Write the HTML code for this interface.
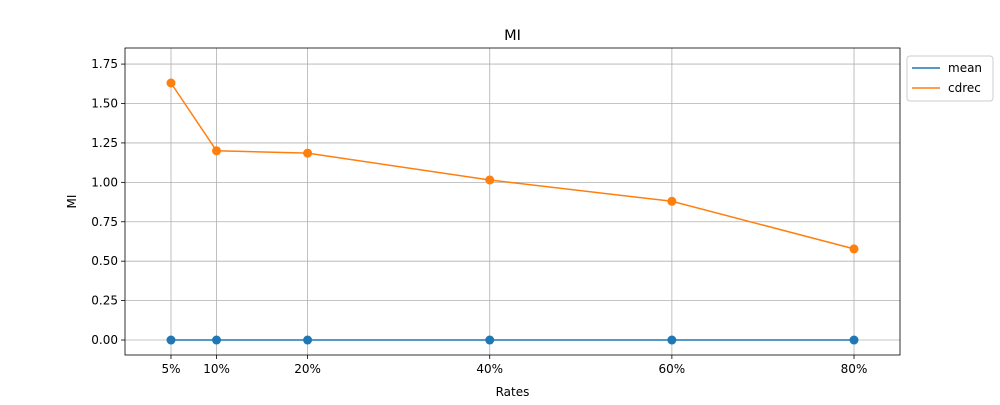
<!DOCTYPE html>
<html><head><meta charset="utf-8"><style>
body{margin:0;background:#fff;font-family:"Liberation Sans","DejaVu Sans",sans-serif;}
svg text{font-family:"DejaVu Sans","Liberation Sans",sans-serif;}
</style></head><body>
<svg id="chart" width="1000" height="400" xmlns="http://www.w3.org/2000/svg"></svg>
<script>
const categories = [5, 10, 20, 40, 60, 80];
const categoryLabels = ["5%", "10%", "20%", "40%", "60%", "80%"];
const meanValues = [0, 0, 0, 0, 0, 0];
const cdrecValues = [1.63, 1.20, 1.185, 1.015, 0.88, 0.578];
const yTicks = [0, 0.25, 0.5, 0.75, 1.0, 1.25, 1.5, 1.75];
const yTickLabels = ["0.00","0.25","0.50","0.75","1.00","1.25","1.50","1.75"];

const L=125,R=900,T=48,B=355;
const xMin=-0.05,xMax=85.05,yMin=-0.095,yMax=1.852;
const sx=v=>L+(v-xMin)/(xMax-xMin)*(R-L);
const sy=v=>B-(v-yMin)/(yMax-yMin)*(B-T);
const svg=document.getElementById('chart');
const NS='http://www.w3.org/2000/svg';
function mk(tag,attrs,parent){const e=document.createElementNS(NS,tag);for(const k in attrs)e.setAttribute(k,attrs[k]);(parent||svg).appendChild(e);return e;}

const grid=mk('g',{});


categories.forEach(c=>mk('line',{x1:sx(c),x2:sx(c),y1:T,y2:B,stroke:'#b0b0b0','stroke-width':0.8},grid));
yTicks.forEach(v=>mk('line',{x1:L,x2:R,y1:sy(v),y2:sy(v),stroke:'#b0b0b0','stroke-width':0.8},grid));

const xa=mk('g',{});


categories.forEach((c,i)=>{
  mk('line',{x1:sx(c),x2:sx(c),y1:B,y2:B+4,stroke:'#000','stroke-width':0.8},xa);
  const t=mk('text',{x:sx(c),y:B+18,'text-anchor':'middle','font-size':12},xa);t.textContent=categoryLabels[i];
});
const ya=mk('g',{});


yTicks.forEach((v,i)=>{
  mk('line',{x1:L-4,x2:L,y1:sy(v),y2:sy(v),stroke:'#000','stroke-width':0.8},ya);
  const t=mk('text',{x:L-7,y:sy(v)+4,'text-anchor':'end','font-size':12},ya);t.textContent=yTickLabels[i];
});

function series(vals,color,name){
  const g=mk('g',{});
  
  
  mk('polyline',{points:vals.map((v,i)=>sx(categories[i])+','+sy(v)).join(' '),fill:'none',stroke:color,'stroke-width':1.5},g);
  vals.forEach((v,i)=>{const c=mk('circle',{cx:sx(categories[i]),cy:sy(v),r:4.5,fill:color},g);
    
    });
}
series(meanValues,'#1f77b4','mean-series');
series(cdrecValues,'#ff7f0e','cdrec-series');

const frame=mk('rect',{x:L,y:T,width:R-L,height:B-T,fill:'none',stroke:'#000','stroke-width':0.8});



let t=mk('text',{x:(L+R)/2,y:40,'text-anchor':'middle','font-size':14.5});t.textContent='MI';

t=mk('text',{x:(L+R)/2,y:396,'text-anchor':'middle','font-size':12});t.textContent='Rates';

t=mk('text',{x:76,y:(T+B)/2,'text-anchor':'middle','font-size':12,transform:'rotate(-90 76 '+((T+B)/2)+')'});t.textContent='MI';


const lg=mk('g',{});


mk('rect',{x:907,y:56,width:86,height:45,rx:3,fill:'#fff',stroke:'#ccc','stroke-width':1},lg);
[['mean','#1f77b4'],['cdrec','#ff7f0e']].forEach((d,i)=>{
  const y=68+i*20;
  const e=mk('g',{},lg);
  
  
  mk('line',{x1:912,x2:940,y1:y,y2:y,stroke:d[1],'stroke-width':1.5},e);
  const tt=mk('text',{x:948,y:y+4,'font-size':12},e);tt.textContent=d[0];
});
</script>
</body></html>
